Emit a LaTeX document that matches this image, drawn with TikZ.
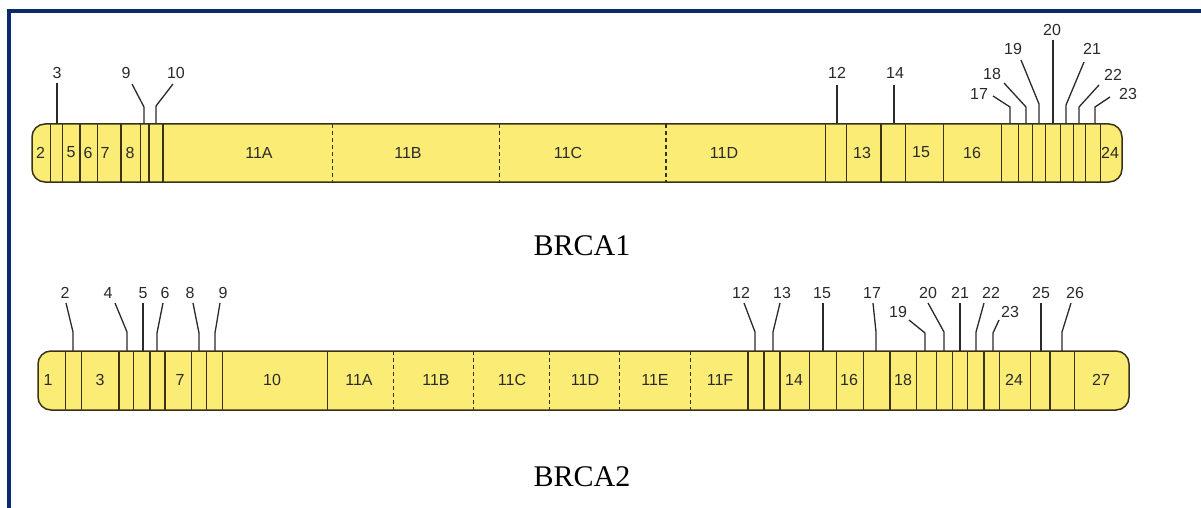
\documentclass[tikz,border=0pt]{standalone}
\usepackage{fontspec}
\setmainfont{Liberation Sans}
\newfontfamily\serifbig{Liberation Serif}
\definecolor{navy}{HTML}{0B2A6B}
\definecolor{exfill}{HTML}{FBEC76}
\definecolor{exline}{HTML}{3A3216}
\definecolor{labtxt}{HTML}{2A2A2A}
\begin{document}
\begin{tikzpicture}[x=1pt,y=-1pt,
  barbox/.style={draw=exline,fill=exfill,line width=1.5pt,rounded corners=13pt},
  divline/.style={draw=exline,line width=1.4pt},
  dashline/.style={draw=exline,line width=1.4pt,dash pattern=on 4pt off 3pt},
  inlab/.style={font=\fontsize{16}{16}\selectfont,text=labtxt,inner sep=0pt},
  toplab/.style={font=\fontsize{16}{16}\selectfont,text=labtxt,inner sep=0pt},
  tickline/.style={draw=labtxt,line width=1.3pt},
  title/.style={font=\serifbig\fontsize{30}{30}\selectfont,anchor=base,inner sep=0pt}]
\useasboundingbox (0,0) rectangle (1201,508);
\fill[white] (0,0) rectangle (1201,508);
% frame
\fill[navy] (7,9.5) rectangle (1201,13);
\fill[navy] (7,9.5) rectangle (11,508);

% ---------------- BRCA1 ----------------
\path[barbox] (32,124) rectangle (1122,182);
\foreach \x in {50.7,62.3,80,97.7,121,140.7,149,163,825.7,846.7,881,905.3,943.3,1001.7,1018.7,1032.3,1045.7,1060.7,1073.3,1085.3,1100.7}
  \draw[divline] (\x,124) -- (\x,182);
\foreach \x in {332.7,499.3,666}
  \draw[dashline] (\x,124) -- (\x,182);
\foreach \n/\t/\x in {a2/2/40.5,a5/5/71,a6/6/88,a7/7/105,a8/8/130,a11A/11A/259,a11B/11B/408,a11C/11C/568,a11D/11D/724,a13/13/862,a15/15/921,a16/16/972,a24/24/1110}
  \node[inlab] (\n) at (\x,152.5) {\t};
\foreach \n/\t/\lx/\ly/\sx/\sy/\bx/\by in {
  b3/3/57/73/57/83/57/83,
  b9/9/126/73/132/84/144/107,
  b10/10/176/73/173/84/156/106,
  b12/12/837/73/837/85/837/85,
  b14/14/895/73/894/85/894/85,
  b17/17/979/94/993/96/1010/107,
  b18/18/992/74/1004/83/1026/107,
  b19/19/1013/49/1021/60/1039/104,
  b20/20/1052/30/1053/40/1053/40,
  b21/21/1092/49/1084/62/1066/105,
  b22/22/1113/75/1099/85/1079/107,
  b23/23/1128/94/1110/97/1095/107}{
  \node[toplab] (\n) at (\lx,\ly) {\t};
  \coordinate (\n-s) at (\sx,\sy);
  \coordinate (\n-b) at (\bx,\by);
  \coordinate (\n-e) at (\bx,124);
  \draw[tickline] (\n-s) -- (\n-b) -- (\n-e);
}
\node[title] (brca1) at (582,255) {BRCA1};

% ---------------- BRCA2 ----------------
\path[barbox] (38,351) rectangle (1129,410);
\foreach \x in {65.7,81.7,119,133.3,150,165,191.7,206.7,222.7,327.7,748,764,780,809.3,836.7,863.3,890,916.7,936.7,952.7,967.3,984,999.3,1030.7,1050,1074.3}
  \draw[divline] (\x,351) -- (\x,410);
\foreach \x in {393.3,473.3,549.3,619.3,690.7}
  \draw[dashline] (\x,351) -- (\x,410);
\foreach \n/\t/\x in {c1/1/48,c3/3/100,c7/7/180,c10/10/272,c11A/11A/359,c11B/11B/436,c11C/11C/512,c11D/11D/585,c11E/11E/655,c11F/11F/720,c14/14/794,c16/16/849,c18/18/903,c24/24/1014,c27/27/1101}
  \node[inlab] (\n) at (\x,380) {\t};
\foreach \n/\t/\lx/\ly/\sx/\sy/\bx/\by in {
  d2/2/65/293/66/303/73/332,
  d4/4/108/293/115/303/127/332,
  d5/5/143/293/143/303/143/303,
  d6/6/165/293/163/303/157/333,
  d8/8/190/293/193/303/199/333,
  d9/9/223/293/220/303/215/333,
  d12/12/741/293/744/303/755/332,
  d13/13/782/293/780/303/773/332,
  d15/15/822/293/823/303/823/303,
  d17/17/872/293/873/303/876/332,
  d19/19/898/312/909/320/925/333,
  d20/20/928/293/928/303/944/332,
  d21/21/960/293/960/303/960/303,
  d22/22/991/293/984/303/976/332,
  d23/23/1010/312/999/320/993/333,
  d25/25/1041/293/1041/303/1041/303,
  d26/26/1075/293/1071/303/1062/332}{
  \node[toplab] (\n) at (\lx,\ly) {\t};
  \coordinate (\n-s) at (\sx,\sy);
  \coordinate (\n-b) at (\bx,\by);
  \coordinate (\n-e) at (\bx,351);
  \draw[tickline] (\n-s) -- (\n-b) -- (\n-e);
}
\node[title] (brca2) at (582,486) {BRCA2};
\end{tikzpicture}
\end{document}
